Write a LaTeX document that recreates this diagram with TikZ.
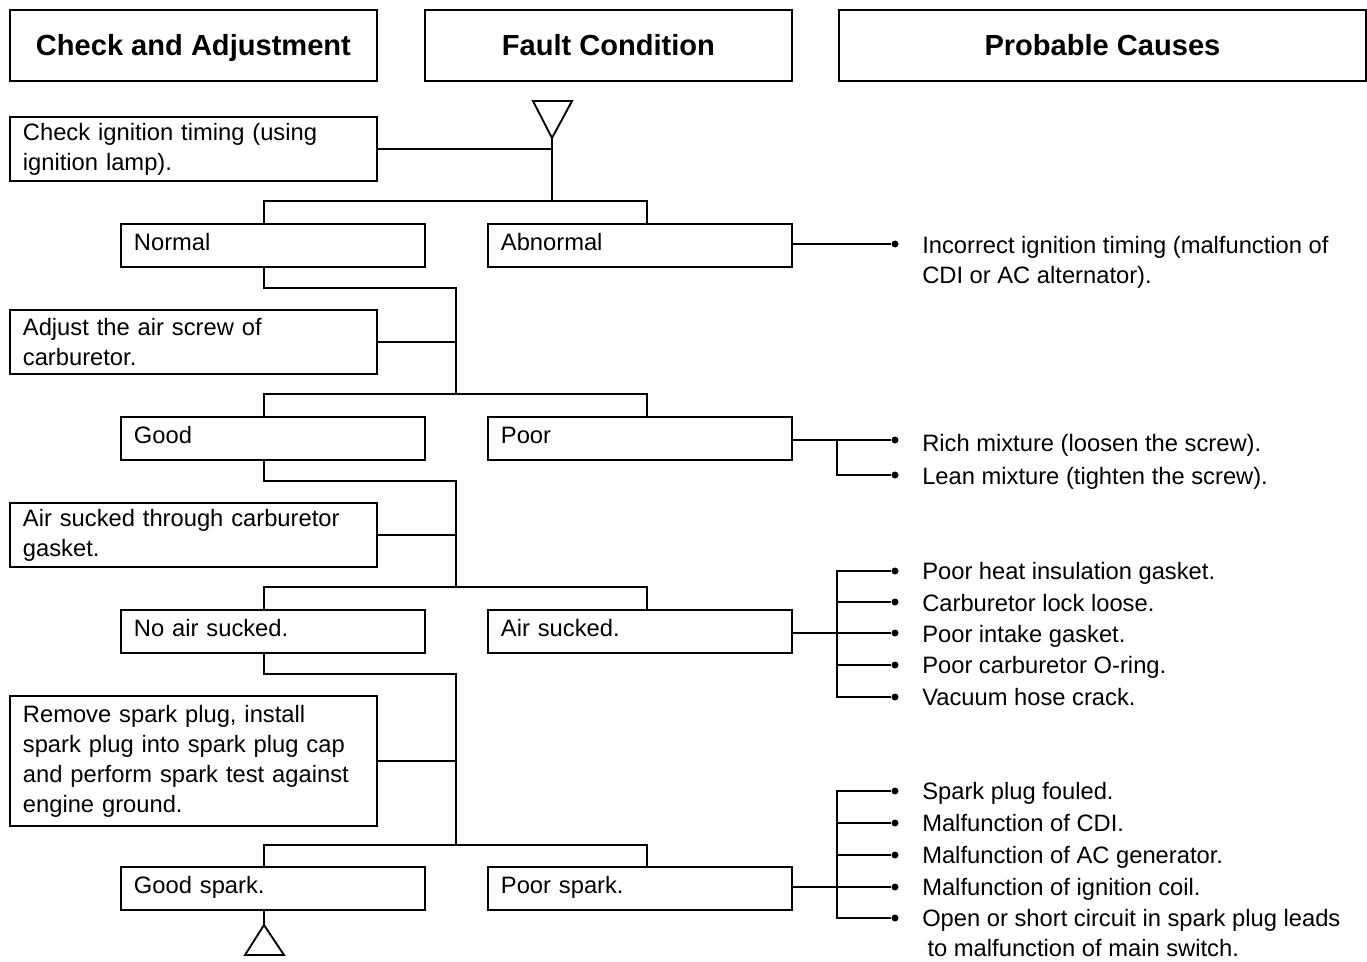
\documentclass[tikz,border=0pt]{standalone}
\usepackage{fontspec}
\setmainfont{Liberation Sans}
\usepackage{tikz}

\tikzset{
  ln/.style={line width=1.4pt},
  headbox/.style={draw, line width=1.4pt, anchor=north west, minimum height=53.25pt, inner sep=0pt, text height=15.6pt, text depth=0pt, font=\bfseries\fontsize{21.8}{26}\selectfont},
  checkbox/.style={draw, line width=1.4pt, anchor=north west, text width=255.75pt, inner xsep=9.75pt, inner ysep=0pt, align=left, font=\fontsize{17.8}{22.5}\selectfont},
  resultbox/.style={draw, line width=1.4pt, anchor=north west, text width=208.5pt, inner xsep=9.75pt, inner ysep=0pt, minimum height=32.25pt, text height=12.7pt, text depth=5.15pt, align=left, font=\fontsize{17.8}{22.5}\selectfont},
  bulletdot/.style={circle, fill=black, inner sep=0pt, minimum size=5.25pt},
  causetext/.style={anchor=west, inner sep=0pt, align=left, font=\fontsize{17.8}{22.5}\selectfont},
  causeline/.style={causetext, text height=12.2pt, text depth=0pt}
}

\begin{document}
\begin{tikzpicture}[x=0.75pt,y=0.75pt,yscale=-1,xscale=1]
\path[use as bounding box] (0,0) rectangle (1367,961);

% Header Nodes
\node [headbox, minimum width=275.25pt] (hcheck) at (9,9) {Check and Adjustment};
\node [headbox, minimum width=275.25pt] (hfault) at (424,9) {Fault Condition};
\node [headbox, minimum width=395.25pt] (hcause) at (838,9) {Probable Causes};

% Check Nodes
\node [checkbox, minimum height=48pt] (chk) at (9,116) {Check ignition timing (using\\ignition lamp).};
\node [checkbox, minimum height=48pt] (adj) at (9,309) {Adjust the air screw of\\carburetor.};
\node [checkbox, minimum height=48pt] (air) at (9,502) {Air sucked through carburetor\\gasket.};
\node [checkbox, minimum height=97.5pt] (spk) at (9,695) {Remove spark plug, install\\spark plug into spark plug cap\\and perform spark test against\\engine ground.};

% Result Nodes
\node [resultbox] (normal) at (120,223) {Normal};
\node [resultbox] (abnormal) at (487,223) {Abnormal};
\node [resultbox] (good) at (120,416) {Good};
\node [resultbox] (poor) at (487,416) {Poor};
\node [resultbox] (noair) at (120,609) {No air sucked.};
\node [resultbox] (airin) at (487,609) {Air sucked.};
\node [resultbox] (goodspk) at (120,866) {Good spark.};
\node [resultbox] (poorspk) at (487,866) {Poor spark.};

% Junction Points
\coordinate (tip) at (552,138);
\coordinate (j1) at (552,201);
\coordinate (b1l) at (264,201);
\coordinate (b1r) at (647,201);
\coordinate (s1) at (264,288);
\coordinate (k1) at (456,288);
\coordinate (b2l) at (264,394);
\coordinate (b2r) at (647,394);
\coordinate (s2) at (264,481);
\coordinate (k2) at (456,481);
\coordinate (b3l) at (264,587);
\coordinate (b3r) at (647,587);
\coordinate (s3) at (264,674);
\coordinate (k3) at (456,674);
\coordinate (b4l) at (264,845);
\coordinate (b4r) at (647,845);
\coordinate (s4) at (264,925);

%Start Triangle
\draw [ln, line join=miter] (533,101) -- (572,101) -- (tip) -- cycle;
%End Triangle
\draw [ln, line join=miter] (s4) -- (245,955) -- (284,955) -- cycle;

%Straight Lines
\draw [ln] (tip) -- (j1);
\draw [ln] (chk.east) -- (chk.east -| j1);
\draw [ln] (b1l |- normal.north) -- (b1l) -- (b1r) -- (b1r |- abnormal.north);
\draw [ln] (s1 |- normal.south) -- (s1) -- (k1) -- (k1 |- b2l);
\draw [ln] (adj.east) -- (adj.east -| k1);
\draw [ln] (b2l |- good.north) -- (b2l) -- (b2r) -- (b2r |- poor.north);
\draw [ln] (s2 |- good.south) -- (s2) -- (k2) -- (k2 |- b3l);
\draw [ln] (air.east) -- (air.east -| k2);
\draw [ln] (b3l |- noair.north) -- (b3l) -- (b3r) -- (b3r |- airin.north);
\draw [ln] (s3 |- noair.south) -- (s3) -- (k3) -- (k3 |- b4l);
\draw [ln] (spk.east) -- (spk.east -| k3);
\draw [ln] (b4l |- goodspk.north) -- (b4l) -- (b4r) -- (b4r |- poorspk.north);
\draw [ln] (s4 |- goodspk.south) -- (s4);

% Cause Nodes: abnormal
\node [bulletdot] (da1) at (895,244) {};
\node [causetext] (ca1) at (922,262) {Incorrect ignition timing (malfunction of\\CDI or AC alternator).};
\draw [ln] (abnormal.east |- da1) -- (da1);

% Cause Nodes: poor
\coordinate (pj) at (837,440);
\node [bulletdot] (dp1) at (895,440) {};
\node [bulletdot] (dp2) at (895,475) {};
\node [causeline] (cp1) at (922,443) {Rich mixture (loosen the screw).};
\node [causeline] (cp2) at (922,476) {Lean mixture (tighten the screw).};
\draw [ln] (poor.east |- dp1) -- (dp1);
\draw [ln] (pj) |- (dp2);

% Cause Nodes: air sucked
\coordinate (aj) at (837,633);
\node [bulletdot] (dq1) at (895,571) {};
\node [bulletdot] (dq2) at (895,602) {};
\node [bulletdot] (dq3) at (895,633) {};
\node [bulletdot] (dq4) at (895,665) {};
\node [bulletdot] (dq5) at (895,697) {};
\node [causeline] (cq1) at (922,571) {Poor heat insulation gasket.};
\node [causeline] (cq2) at (922,603) {Carburetor lock loose.};
\node [causeline] (cq3) at (922,634) {Poor intake gasket.};
\node [causeline] (cq4) at (922,665) {Poor carburetor O-ring.};
\node [causeline] (cq5) at (922,697) {Vacuum hose crack.};
\draw [ln] (airin.east |- dq3) -- (dq3);
\draw [ln] (dq1) -- (aj |- dq1) -- (aj |- dq5) -- (dq5);
\draw [ln] (aj |- dq2) -- (dq2);
\draw [ln] (aj |- dq4) -- (dq4);

% Cause Nodes: poor spark
\coordinate (sj) at (837,887);
\node [bulletdot] (dr1) at (895,791) {};
\node [bulletdot] (dr2) at (895,823) {};
\node [bulletdot] (dr3) at (895,855) {};
\node [bulletdot] (dr4) at (895,887) {};
\node [bulletdot] (dr5) at (895,918) {};
\node [causeline] (cr1) at (922,791) {Spark plug fouled.};
\node [causeline] (cr2) at (922,823) {Malfunction of CDI.};
\node [causeline] (cr3) at (922,855) {Malfunction of AC generator.};
\node [causeline] (cr4) at (922,887) {Malfunction of ignition coil.};
\node [causetext] (cr5) at (922,933) {Open or short circuit in spark plug leads\\\hspace*{4pt}to malfunction of main switch.};
\draw [ln] (poorspk.east |- dr4) -- (dr4);
\draw [ln] (dr1) -- (sj |- dr1) -- (sj |- dr5) -- (dr5);
\draw [ln] (sj |- dr2) -- (dr2);
\draw [ln] (sj |- dr3) -- (dr3);

\end{tikzpicture}
\end{document}
